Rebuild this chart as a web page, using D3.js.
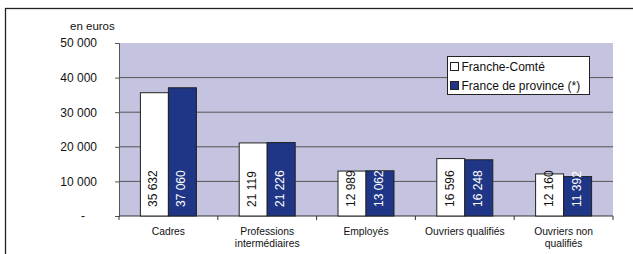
<!DOCTYPE html>
<html>
<head>
<meta charset="utf-8">
<script src="https://cdn.jsdelivr.net/npm/d3@7"></script>
<style>
  body { margin: 0; background: #fff; }
  text { font-family: "Liberation Sans", Arial, sans-serif; }
</style>
</head>
<body>
<svg id="chart" width="633" height="254"></svg>
<script>
// categories and values (en euros)
var categories = [["Cadres"], ["Professions", "intermédiaires"], ["Employés"], ["Ouvriers qualifiés"], ["Ouvriers non", "qualifiés"]];
var franceComte = [35632, 21119, 12989, 16596, 12160];
var franceProvince = [37060, 21226, 13062, 16248, 11392];
var seriesNames = ["Franche-Comté", "France de province (*)"];
var yTicks = [0, 10000, 20000, 30000, 40000, 50000];

var colors = ["#ffffff", "#1f3586"];

var margin = {top: 43, left: 119, right: 20, bottom: 38};
var width = 613 - margin.left,
    height = 216 - margin.top;

var svg = d3.select("#chart");

// outer frame
svg.append("rect")
    .attr("x", 5.5).attr("y", 8.5)
    .attr("width", 700).attr("height", 300)
    .attr("fill", "none").attr("stroke", "#222").attr("stroke-width", 1.3);

var g = svg.append("g").attr("transform", "translate(" + margin.left + "," + margin.top + ")");

var x0 = d3.scaleBand().domain(d3.range(categories.length)).range([0, width]);
var x1 = d3.scaleBand().domain([0, 1]).range([x0.bandwidth() / 2 - 28, x0.bandwidth() / 2 + 28]);
var y = d3.scaleLinear().domain([0, 50000]).range([height, 0]);

var fmt = function(v) { return d3.format(",")(v).replace(",", " "); };

g.append("rect")
    .attr("width", width).attr("height", height)
    .attr("fill", "#c4c4e0");

// gridlines
g.selectAll(".grid")
    .data(yTicks.filter(function(d) { return d > 0 && d < 50000; }))
  .enter().append("line")
    .attr("x1", 0).attr("x2", width)
    .attr("y1", function(d) { return y(d); }).attr("y2", function(d) { return y(d); })
    .attr("stroke", "#555").attr("stroke-width", 1);

// y axis
var yAxis = g.append("g").call(d3.axisLeft(y).tickValues(yTicks).tickSize(4).tickPadding(18)
    .tickFormat(function(d) { return d === 0 ? "-" : fmt(d); }));
yAxis.select(".domain").attr("stroke", "#555");
yAxis.selectAll(".tick line").attr("stroke", "#555");
yAxis.selectAll("text").attr("font-size", 12).attr("fill", "#111")
    .attr("font-family", "Liberation Sans, Arial, sans-serif");
yAxis.selectAll(".tick").filter(function(d) { return d === 0; }).select("text").attr("dx", -12);

svg.append("text")
    .attr("x", 70).attr("y", 30)
    .attr("font-size", 11.5).attr("fill", "#111")
    .text("en euros");

// x axis
var xAxis = g.append("g").attr("transform", "translate(0," + height + ")");
xAxis.append("line").attr("x1", 0).attr("x2", width).attr("stroke", "#333");
xAxis.selectAll(".xt")
    .data(d3.range(categories.length + 1))
  .enter().append("line")
    .attr("x1", function(d) { return d * x0.step(); }).attr("x2", function(d) { return d * x0.step(); })
    .attr("y1", 0).attr("y2", 4).attr("stroke", "#333");

var labels = xAxis.selectAll(".xl")
    .data(categories)
  .enter().append("text")
    .attr("text-anchor", "middle")
    .attr("font-size", 10.3).attr("fill", "#111")
    .attr("transform", function(d, i) { return "translate(" + (x0(i) + x0.bandwidth() / 2) + ",0)"; });
labels.selectAll("tspan")
    .data(function(d) { return d; })
  .enter().append("tspan")
    .attr("x", 0)
    .attr("y", function(d, i) { return 19 + i * 11.5; })
    .text(function(d) { return d; });

// bars
var series = [franceComte, franceProvince];
series.forEach(function(vals, s) {
  var grp = g.append("g");
  grp.selectAll("rect")
      .data(vals)
    .enter().append("rect")
      .attr("x", function(d, i) { return x0(i) + x1(s); })
      .attr("y", function(d) { return y(d); })
      .attr("width", x1.bandwidth())
      .attr("height", function(d) { return height - y(d); })
      .attr("fill", colors[s])
      .attr("stroke", "#222").attr("stroke-width", 1);
  grp.selectAll("text")
      .data(vals)
    .enter().append("text")
      .attr("transform", function(d, i) {
        return "translate(" + (x0(i) + x1(s) + x1.bandwidth() / 2 + 3) + "," + (height - 9) + ")rotate(-90)";
      })
      .attr("font-size", 12)
      .attr("fill", s === 0 ? "#111" : "#fff")
      .text(function(d) { return fmt(d); });
});

// legend
var lg = svg.append("g").attr("transform", "translate(447.5,56.5)");
lg.append("rect").attr("width", 142).attr("height", 38)
    .attr("fill", "#fff").attr("stroke", "#222").attr("stroke-width", 1);
seriesNames.forEach(function(name, i) {
  lg.append("rect")
      .attr("x", 3).attr("y", 6 + i * 19)
      .attr("width", 8).attr("height", 8)
      .attr("fill", colors[i]).attr("stroke", "#222");
  lg.append("text")
      .attr("x", 14).attr("y", 14 + i * 19)
      .attr("font-size", 12).attr("fill", "#111")
      .text(name);
});
</script>
</body>
</html>
